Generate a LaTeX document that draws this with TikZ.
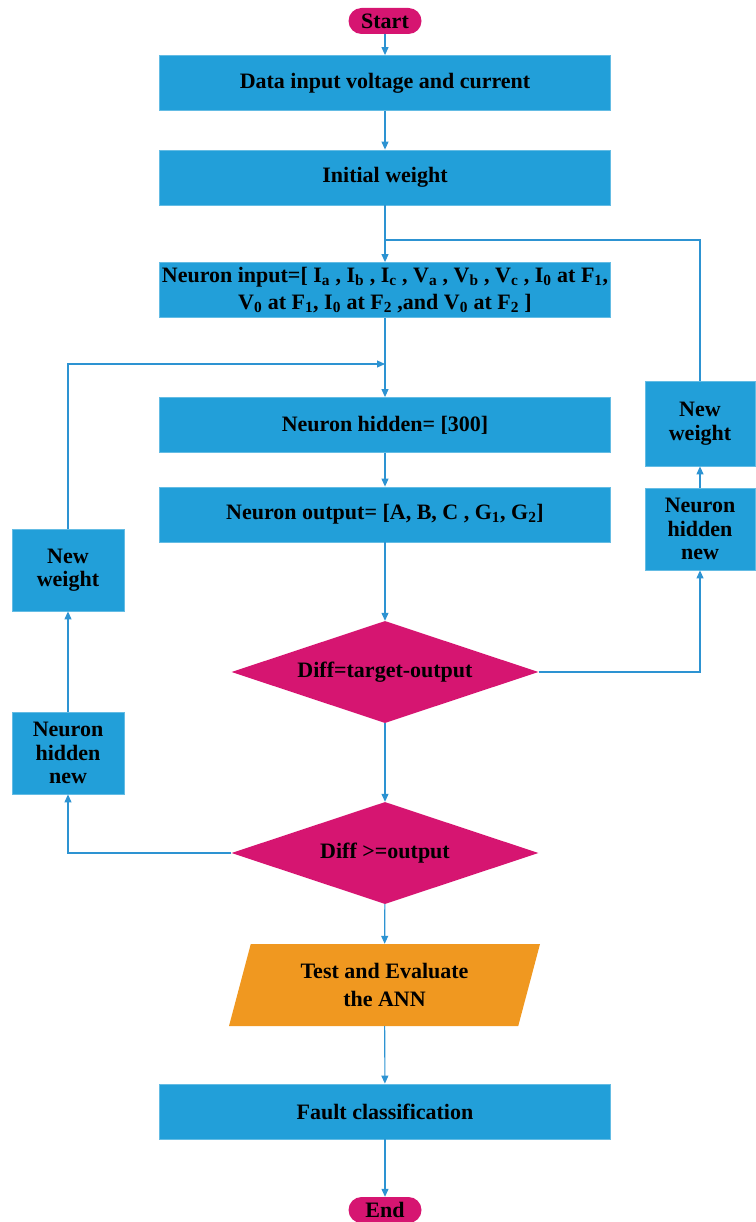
\documentclass[tikz,border=0pt]{standalone}
\usepackage{fontspec}
\setmainfont{Liberation Serif}
\usepackage{xcolor}
\usepackage{tikz}
\usetikzlibrary{arrows.meta,positioning,shapes.geometric}
\definecolor{boxc}{HTML}{229FD9}
\definecolor{magc}{HTML}{D61571}
\definecolor{orgc}{HTML}{F09820}
\definecolor{linec}{HTML}{2D93D2}
\newcommand{\sbs}[1]{\textsubscript{#1}}
\tikzset{
  ln/.style={linec,line width=1.1pt},
  ar/.style={ln,-{Triangle[length=8pt,width=7pt]}},
  bx/.style={rectangle,fill=boxc,draw=boxc!70!white,line width=0.8pt,minimum width=451pt,minimum height=55pt,inner sep=2pt,align=center,font=\fontsize{22}{27}\selectfont\bfseries},
  sbx/.style={bx,minimum width=112pt,minimum height=82pt,font=\fontsize{22}{23.5}\selectfont\bfseries},
  dm/.style={diamond,aspect=3,fill=magc,minimum width=307pt,minimum height=102pt,inner sep=0pt,font=\fontsize{22}{27}\selectfont\bfseries},
  term/.style={rectangle,rounded corners=13pt,fill=magc,minimum width=73pt,minimum height=26pt,inner sep=0pt,font=\fontsize{22}{27}\selectfont\bfseries},
  pl/.style={trapezium,trapezium left angle=63.4,trapezium right angle=116.6,trapezium stretches body,fill=orgc,minimum width=311pt,minimum height=82pt,inner sep=0pt,align=center,font=\fontsize{22}{28}\selectfont\bfseries}
}
\begin{document}
\begin{tikzpicture}[x=1pt,y=-1pt]
\useasboundingbox (0,0) rectangle (755,1222);
\node[term] (start) at (385,21) {Start};
\node[bx] (data) at (385,83) {Data input voltage and current};
\node[bx] (init) at (385,177.5) {Initial weight};
\node[bx] (nin) at (385,290) {Neuron input=[ I\sbs{a} , I\sbs{b} , I\sbs{c} , V\sbs{a} , V\sbs{b} , V\sbs{c} , I\sbs{0} at F\sbs{1},\\ V\sbs{0} at F\sbs{1}, I\sbs{0} at F\sbs{2} ,and V\sbs{0} at F\sbs{2} ]};
\node[bx] (hid) at (385,425) {Neuron hidden= [300]};
\node[bx] (out) at (385,514.5) {Neuron output= [A, B, C , G\sbs{1}, G\sbs{2}]};
\node[dm] (d1) at (385,672) {Diff=target-output};
\node[dm] (d2) at (385,853) {Diff >=output};
\node[pl] (test) at (384.5,985) {Test and Evaluate\\ the ANN};
\node[bx] (fault) at (385,1111.5) {Fault classification};
\node[term] (end) at (385,1210) {End};
\node[sbx] (lnw) at (68,570) {New\\ weight}; \node[sbx] (lnh) at (68,753) {Neuron\\ hidden\\ new};
\node[sbx,minimum width=110pt,minimum height=85pt] (rnw) at (700,423.5) {New\\ weight}; \node[sbx,minimum width=110pt] (rnh) at (700,529) {Neuron\\ hidden\\ new};
\coordinate (jr) at (385,240); \coordinate (jl) at (385,364);
\draw[ar] (start)--(data); \draw[ar] (data)--(init); \draw[ar] (init)--(nin); \draw[ar] (nin)--(hid);
\draw[ar] (hid)--(out); \draw[ar] (out)--(d1); \draw[ar] (d1)--(d2); \draw[ar] (d2)--(test);
\draw[ar] (test)--(fault); \draw[ar] (fault)--(end);
\draw[ar] (d1.east) -| (rnh.south); \draw[ar] (rnh)--(rnw); \draw[ln] (rnw.north) |- (jr);
\draw[ar] (d2.west) -| (lnh.south); \draw[ar] (lnh)--(lnw); \draw[ar] (lnw.north) |- (jl);
\end{tikzpicture}
\end{document}
